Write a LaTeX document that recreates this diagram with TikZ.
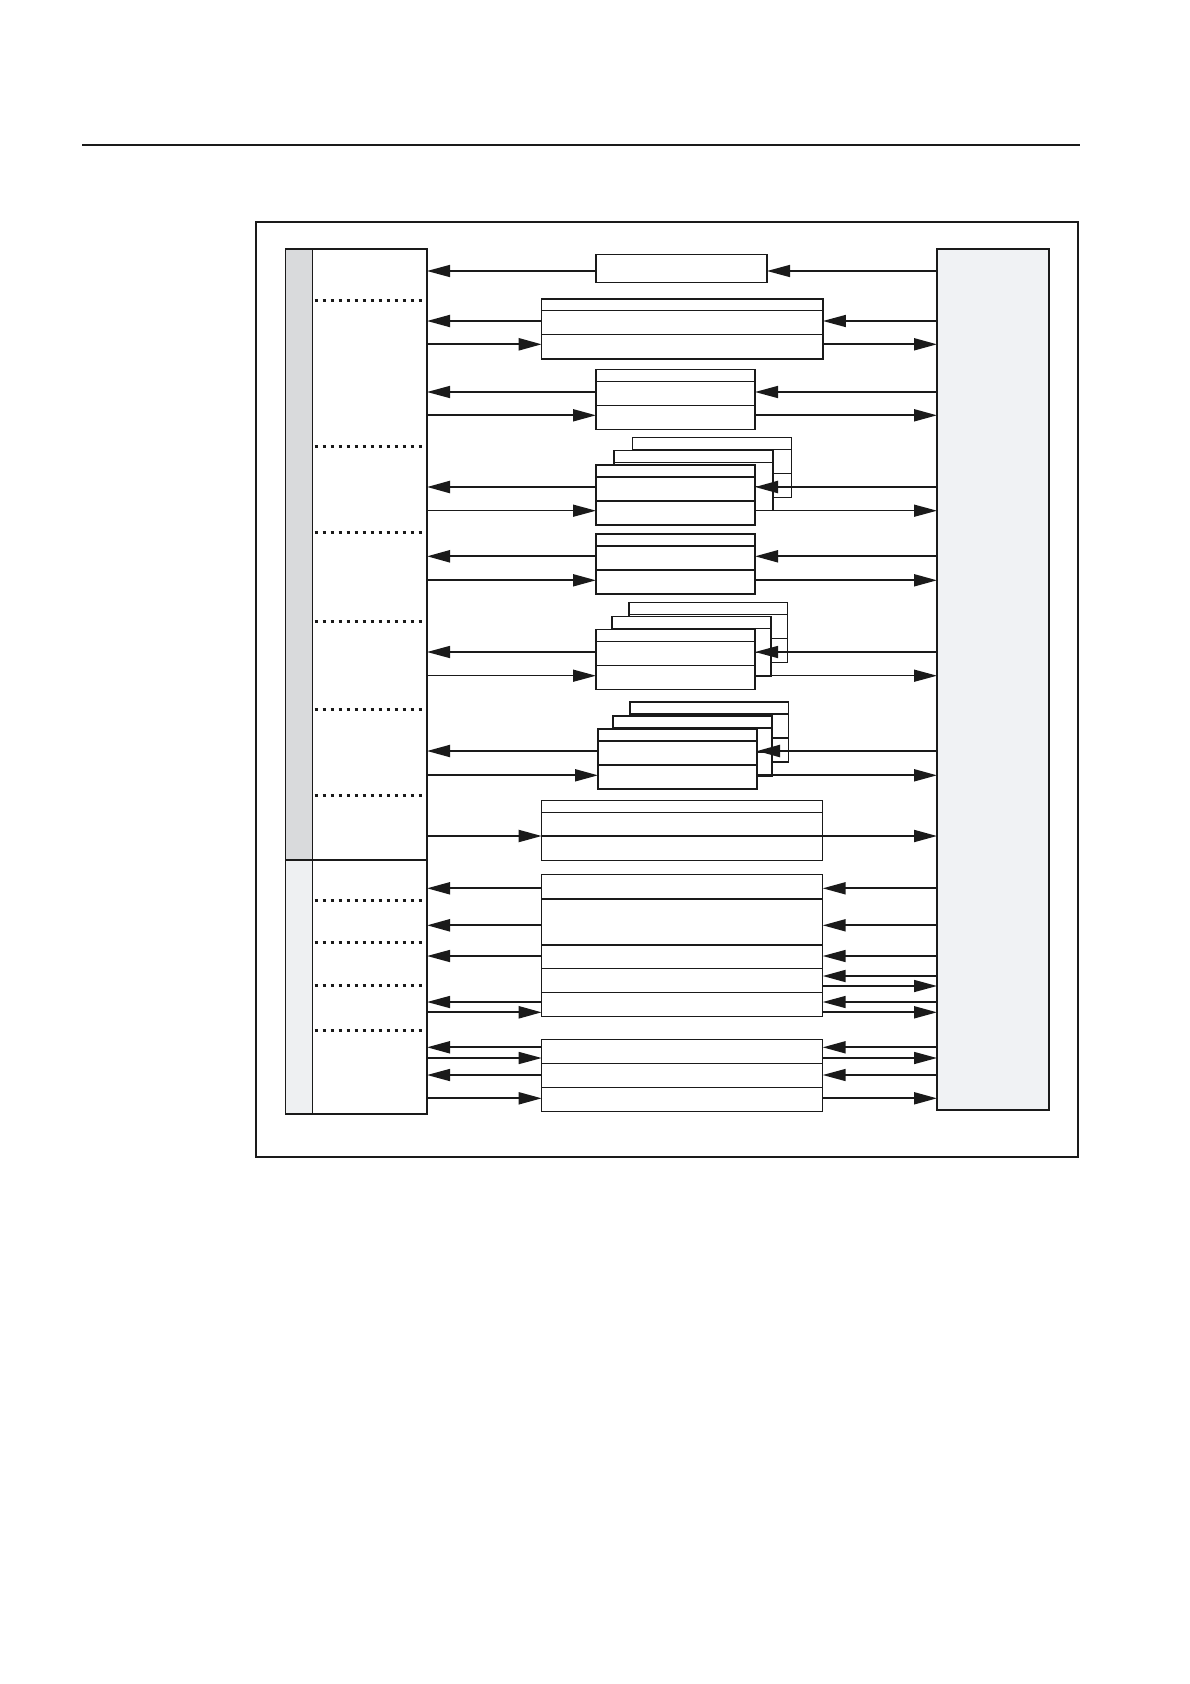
\documentclass[tikz,border=0pt]{standalone}
\usetikzlibrary{arrows.meta}
\definecolor{ink}{HTML}{1A1A1A}
\definecolor{barA}{HTML}{D9DADC}
\definecolor{barB}{HTML}{EEF0F2}
\definecolor{blk}{HTML}{F0F2F4}
\newcommand\hdiv[2]{\draw[ln] (#1.west |- 0,#2) -- (#1.east |- 0,#2);}
\newcommand\Lback[3]{\draw[#1] (#2.west |- 0,#3) -- (lc.east |- 0,#3);}
\newcommand\Lfwd[3]{\draw[#1] (lc.east |- 0,#3) -- (#2.west |- 0,#3);}
\newcommand\Rback[3]{\draw[#1] (rb.west |- 0,#3) -- (#2.east |- 0,#3);}
\newcommand\Rfwd[3]{\draw[#1] (#2.east |- 0,#3) -- (rb.west |- 0,#3);}
\newcommand\stackbox[4]{% name, left, top, width
  \node[bx, minimum width=#4pt, minimum height=60pt] (#1) at (#2,#3) {};
  \hdiv{#1}{#3+12}\hdiv{#1}{#3+36}}
\begin{document}
\begin{tikzpicture}[x=1pt,y=-1pt,
  ln/.style={draw=ink,line width=1.5pt},
  bx/.style={draw=ink,line width=1.5pt,fill=white,anchor=north west,inner sep=0pt,outer sep=0pt},
  tip/.style={-{Triangle[length=23pt,width=12pt]}},
  a1/.style={tip,draw=ink,fill=ink,line width=1.5pt},
  a2/.style={tip,draw=ink,fill=ink,line width=1.9pt},
  a3/.style={tip,draw=ink,fill=ink,line width=2.3pt},
  dots/.style={draw=ink,line width=3pt,dash pattern=on 3pt off 5pt}]
\useasboundingbox (0,0) rectangle (1190,1684);
% top rule
\draw[draw=ink,line width=1.1pt] (82,145) coordinate (r0) -- (1080,145) coordinate (r1);
% outer frame
\node[bx, draw=ink, line width=1.6pt, minimum width=822pt, minimum height=935.3pt] (frame) at (255.7,221.7) {};
% left column
\node[bx, fill=barA, minimum width=27.4pt, minimum height=611pt] (gb) at (285.3,249) {};
\node[bx, fill=barB, minimum width=27.4pt, minimum height=254pt] (lb) at (285.3,860) {};
\node[bx, fill=white, minimum width=114.3pt, minimum height=865pt] (lc) at (312.7,249) {};
\draw[ink,line width=2.1pt] (gb.south west) -- (lc.east |- gb.south);
\foreach \yy in {300,446.7,532.7,621,709.3,795.7,900,942.3,985,1030.7}
  \draw[dots] (lc.west |- 0,\yy) ++(2,0) -- (lc.east |- 0,\yy);
% right block
\node[bx, fill=blk, minimum width=112pt, minimum height=861pt] (rb) at (937,249) {};
% boxes
\node[bx, minimum width=171pt, minimum height=28.4pt] (b1) at (596,254.3) {};
\node[bx, minimum width=281.2pt, minimum height=60pt] (b2) at (541.7,299) {};
\hdiv{b2}{310.7}\hdiv{b2}{334.7}
\stackbox{b3}{596}{369.7}{159}
% stack 4
\stackbox{b4c}{632.5}{437.7}{159}
\stackbox{b4b}{614}{450.7}{159}
\stackbox{b4}{596}{465}{159}
\stackbox{b5}{596}{534}{159}
% stack 6
\stackbox{b6c}{629}{602.7}{158.5}
\stackbox{b6b}{612}{616.7}{159}
\stackbox{b6}{596}{629.7}{159}
% stack 7
\stackbox{b7c}{630}{702}{158.5}
\stackbox{b7b}{613}{716}{159}
\stackbox{b7}{598}{729}{159}
% box 8
\node[bx, minimum width=281pt, minimum height=59.6pt] (b8) at (541.7,800.7) {};
\hdiv{b8}{812.7}\hdiv{b8}{836}
% box 9
\node[bx, minimum width=281pt, minimum height=142pt] (b9) at (541.7,874.7) {};
\hdiv{b9}{899}\hdiv{b9}{945}\hdiv{b9}{968.7}\hdiv{b9}{992.7}
% box 10
\node[bx, minimum width=281pt, minimum height=72.4pt] (b10) at (541.7,1039.3) {};
\hdiv{b10}{1063.7}\hdiv{b10}{1087.7}
% connectors
\Lback{a1}{b1}{271}   \Rback{a1}{b1}{271}
\Lback{a2}{b2}{321}   \Rback{a1}{b2}{321}
\Lfwd{a3}{b2}{344.3}  \Rfwd{a2}{b2}{344.3}
\Lback{a1}{b3}{392}   \Rback{a1}{b3}{392}
\Lfwd{a2}{b3}{415.3}  \Rfwd{a2}{b3}{415.3}
\Lback{a3}{b4}{487}   \Rback{a3}{b4}{487}
\Lfwd{a1}{b4}{510.7}  \Rfwd{a1}{b4}{510.7}
\Lback{a3}{b5}{556.3} \Rback{a2}{b5}{556.3}
\Lfwd{a2}{b5}{580.3}  \Rfwd{a2}{b5}{580.3}
\Lback{a1}{b6}{652}   \Rback{a1}{b6}{652}
\Lfwd{a1}{b6}{675.7}  \Rfwd{a1}{b6}{675.7}
\Lback{a2}{b7}{751}   \Rback{a3}{b7}{751}
\Lfwd{a2}{b7}{775.3}  \Rfwd{a2}{b7}{775.3}
\Lfwd{a2}{b8}{836}    \Rfwd{a2}{b8}{836}
\Lback{a2}{b9}{888.3} \Rback{a2}{b9}{888.3}
\Lback{a3}{b9}{925.3} \Rback{a2}{b9}{925.3}
\Lback{a1}{b9}{956}   \Rback{a1}{b9}{956}
\Rback{a2}{b9}{976}   \Rfwd{a1}{b9}{986}
\Lback{a1}{b9}{1002}  \Rback{a1}{b9}{1002}
\Lfwd{a3}{b9}{1012.3} \Rfwd{a2}{b9}{1012.3}
\Lback{a2}{b10}{1047.3} \Rback{a2}{b10}{1047.3}
\Lfwd{a1}{b10}{1058}  \Rfwd{a1}{b10}{1058}
\Lback{a1}{b10}{1075} \Rback{a1}{b10}{1075}
\Lfwd{a2}{b10}{1098.3} \Rfwd{a2}{b10}{1098.3}
\end{tikzpicture}
\end{document}
